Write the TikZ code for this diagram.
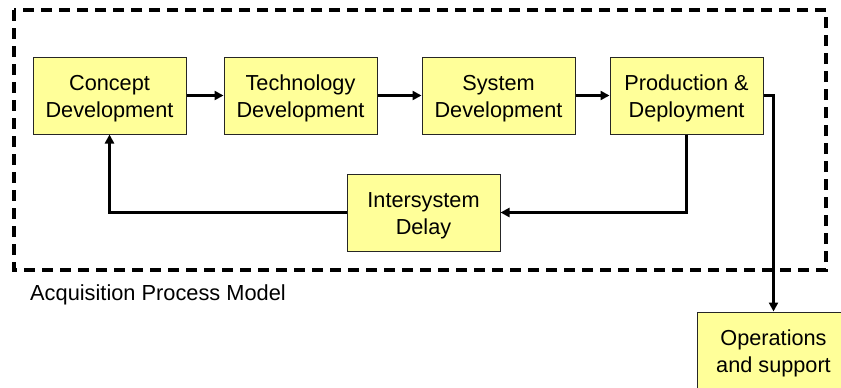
\documentclass[tikz,border=0pt]{standalone}
\usepackage{fontspec}
\setmainfont{Liberation Sans}
\usetikzlibrary{arrows.meta}
\definecolor{boxfill}{HTML}{FFFF99}
\begin{document}
\begin{tikzpicture}[x=1pt,y=-1pt,
  stagebox/.style={draw=black!85, line width=1pt, fill=boxfill, minimum width=153pt, minimum height=77pt,
    inner sep=0pt},
  stagetext/.style={align=center, inner sep=0pt, yshift=-3pt, font=\fontsize{21.7}{26.7}\selectfont},
  flow/.style={line width=3.3pt, -{Triangle[length=9pt,width=9pt]}},
  frame/.style={line width=3.5pt, dash pattern=on 11pt off 7pt}]
\useasboundingbox (0,0) rectangle (841,388);
\draw[frame] (14,10) rectangle (826,270);
\node[stagebox, label={[stagetext]center:Concept\\Development}] (C) at (109.5,95.5) {};
\node[stagebox, label={[stagetext]center:Technology\\Development}] (T) at (300.5,95.5) {};
\node[stagebox, label={[stagetext]center:System\\Development}] (S) at (498.5,95.5) {};
\node[stagebox, label={[stagetext]center:Production \&\\Deployment}] (P) at (686.5,95.5) {};
\node[stagebox, label={[stagetext]center:Intersystem\\Delay}] (I) at (423.5,212.5) {};
\node[stagebox, label={[stagetext]center:Operations\\and support}] (O) at (773.5,350.5) {};
\node[anchor=base west, inner sep=0pt, font=\fontsize{21.8}{26}\selectfont] (L) at (30,300) {Acquisition Process Model};
\draw[flow] (C) -- (T);
\draw[flow] (T) -- (S);
\draw[flow] (S) -- (P);
\draw[flow] (P.east) -| (O.north);
\draw[flow] (P.south) |- (I.east);
\draw[flow] (I.west) -| (C.south);
\end{tikzpicture}
\end{document}
